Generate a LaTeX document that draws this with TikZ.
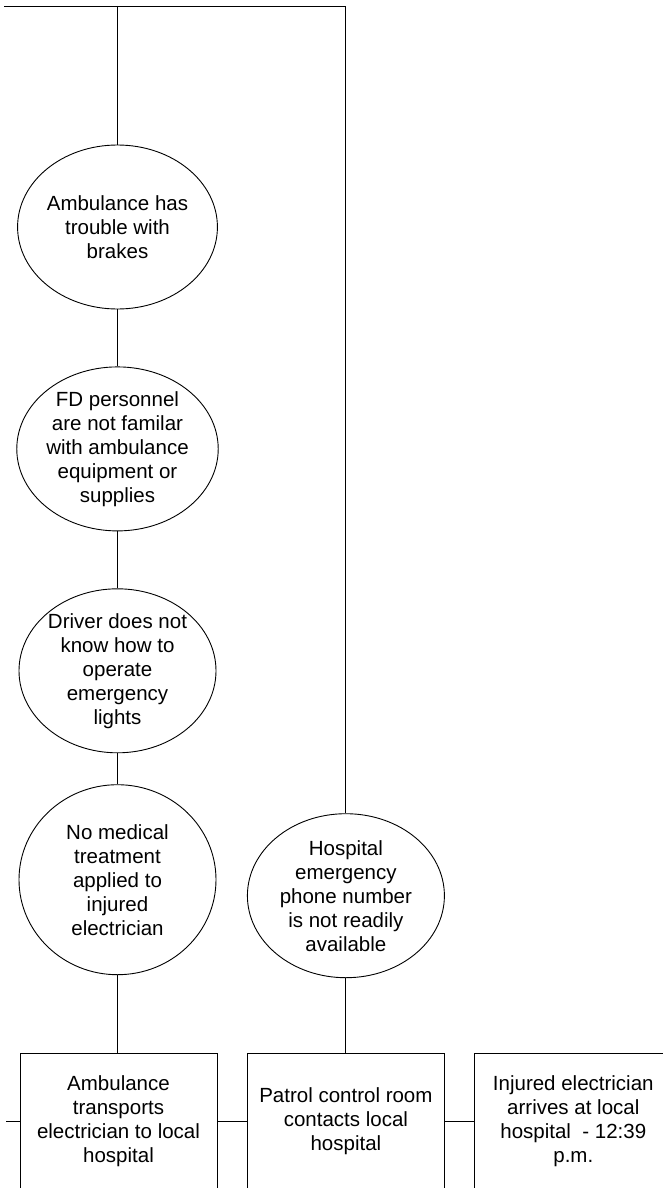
\documentclass[tikz,border=0pt]{standalone}
\usepackage{fontspec}
\setmainfont{Liberation Sans}
\usetikzlibrary{shapes.geometric,positioning}

\begin{document}
\begin{tikzpicture}[
    x=1pt, y=-1pt, node distance=57pt,
    cause/.style={ellipse, draw, line width=0.9pt, inner sep=0pt,
                  minimum width=197pt, minimum height=164pt, align=center,
                  font=\fontsize{20.5}{24}\selectfont},
    event/.style={rectangle, draw, line width=0.9pt, inner sep=0pt,
                  minimum width=197pt, minimum height=136pt, align=center,
                  font=\fontsize{20.5}{24}\selectfont},
    link/.style={line width=0.9pt}
  ]
    \useasboundingbox (0,0) rectangle (662,1188);

    \node[cause] (brakes) at (117.5,227) {Ambulance has\\trouble with\\brakes};
    \node[cause, below=of brakes] (fd)     {FD personnel\\are not familar\\with ambulance\\equipment or\\supplies};
    \node[cause, below=of fd]     (driver) {Driver does not\\know how to\\operate\\emergency\\lights};
    \node[cause, below=31pt of driver, minimum height=190pt] (nomed) {No medical\\treatment\\applied to\\injured\\electrician};
    \node[cause, right=30.5pt of nomed, yshift=-16pt] (phone) {Hospital\\emergency\\phone number\\is not readily\\available};

    %--- Events (bottom row) ---
    \node[event] (transport) at (118.5,1121) {Ambulance\\transports\\electrician to local\\hospital};
    \node[event, right=29.5pt of transport] (patrol) {Patrol control room\\contacts local\\hospital};
    \node[event, right=29.5pt of patrol]    (arrive) {Injured electrician\\arrives at local\\hospital\ \ - 12:39\\p.m.};

    \coordinate (topleft) at (4,6);
    \coordinate (stub)    at (6,1121);

    \draw[link] (topleft) -- (topleft -| phone.north) -- (phone.north);
    \draw[link] (topleft -| brakes.north) -- (brakes.north);
    \draw[link] (brakes) -- (fd);
    \draw[link] (fd) -- (driver);
    \draw[link] (driver) -- (nomed);
    \draw[link] (nomed.south) -- (nomed.south |- transport.north);
    \draw[link] (phone.south) -- (phone.south |- patrol.north);
    \draw[link] (stub) -- (transport.west);
    \draw[link] (transport) -- (patrol);
    \draw[link] (patrol) -- (arrive);
  \end{tikzpicture}
\end{document}
